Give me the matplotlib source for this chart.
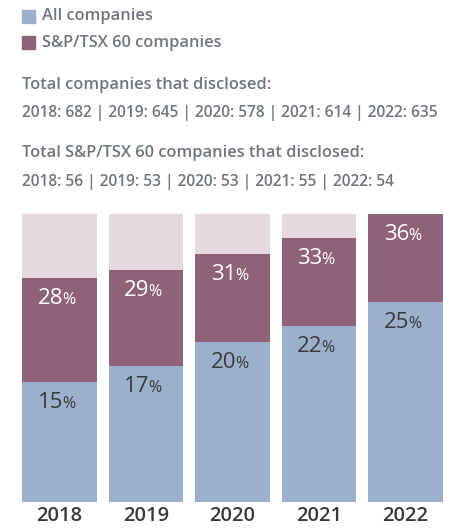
"""
Disclosure rates - all companies vs S&P/TSX 60 companies
"""

import matplotlib.pyplot as plt

# ----------------------------------------------------
# Data
# ----------------------------------------------------

years = ["2018", "2019", "2020", "2021", "2022"]

all_companies = [15, 17, 20, 22, 25]

sp60_companies = [28, 29, 31, 33, 36]

total_disclosed = [682, 645, 578, 614, 635]

total_sp60_disclosed = [56, 53, 53, 55, 54]

# ----------------------------------------------------
# Style
# ----------------------------------------------------

plt.rcParams["font.family"] = ["Open Sans", "DejaVu Sans"]

BLUE = "#9ab0cb"
PURPLE = "#8e6379"
PINK = "#e5d9e0"
GREY = "#6f767e"
DARK = "#3a3a3a"

fig = plt.figure(figsize=(4.6, 5.3), dpi=100)

# ----------------------------------------------------
# Header: legend + totals
# ----------------------------------------------------

fig.patches.append(plt.Rectangle((22 / 460, 1 - 23 / 530), 13 / 460, 13 / 530,
                                 transform=fig.transFigure, color=BLUE))
fig.text(42 / 460, 1 - 16 / 530, "All companies", color=GREY,
         fontsize=11.8, fontweight="semibold", va="center")

fig.patches.append(plt.Rectangle((22 / 460, 1 - 49 / 530), 13 / 460, 13 / 530,
                                 transform=fig.transFigure, color=PURPLE))
fig.text(42 / 460, 1 - 43 / 530, "S&P/TSX 60 companies", color=GREY,
         fontsize=11.8, fontweight="semibold", va="center")

line1 = " | ".join(f"{y}: {v}" for y, v in zip(years, total_disclosed))
line2 = " | ".join(f"{y}: {v}" for y, v in zip(years, total_sp60_disclosed))

fig.text(22 / 460, 1 - 85 / 530, "Total companies that disclosed:",
         color=GREY, fontsize=11.8, fontweight="semibold", va="center")
fig.text(22 / 460, 1 - 113 / 530, line1,
         color=GREY, fontsize=11.2, fontweight="semibold", va="center")
fig.text(22 / 460, 1 - 153 / 530, "Total S&P/TSX 60 companies that disclosed:",
         color=GREY, fontsize=11.8, fontweight="semibold", va="center")
fig.text(22 / 460, 1 - 182 / 530, line2,
         color=GREY, fontsize=11.2, fontweight="semibold", va="center")

# ----------------------------------------------------
# Bars
# ----------------------------------------------------

ax = fig.add_axes([22 / 460, 28 / 530, 421 / 460, 288 / 530])

x = list(range(len(years)))
width = 0.867
top = max(sp60_companies)

ax.bar(x, [top] * len(years), width=width, color=PINK)
ax.bar(x, sp60_companies, width=width, color=PURPLE)
ax.bar(x, all_companies, width=width, color=BLUE)


def pct_label(xpos, value, color):
    # number and a smaller percent sign, side by side
    ax.annotate(f"{value}", (xpos + 0.04, value), xytext=(0, -14.4),
                textcoords="offset points", ha="right", va="center",
                fontsize=16, color=color)
    ax.annotate("%", (xpos + 0.04, value), xytext=(-0.8, -15.8),
                textcoords="offset points", ha="left", va="center",
                fontsize=11.5, color=color)


for i in x:
    pct_label(i, sp60_companies[i], "white")
    pct_label(i, all_companies[i], DARK)

ax.set_xlim(-width / 2, len(years) - 1 + width / 2)
ax.set_ylim(0, top)

ax.set_xticks(x)
ax.set_xticklabels(years, fontsize=14.5, color=DARK, fontweight="semibold")
ax.tick_params(axis="x", length=0, pad=3)
ax.set_yticks([])

for side in ax.spines.values():
    side.set_visible(False)

plt.savefig("out.png", dpi=100)

plt.close()
